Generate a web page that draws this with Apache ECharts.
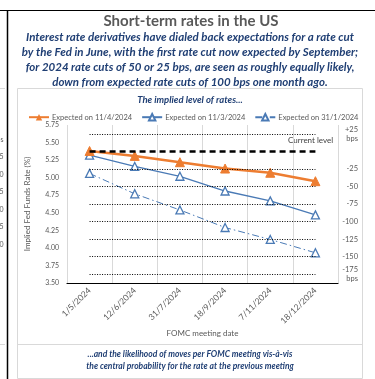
<!DOCTYPE html>
<html>
<head>
<meta charset="utf-8">
<script src="https://cdn.jsdelivr.net/npm/echarts@6/dist/echarts.min.js"></script>
<style>
  html, body { margin: 0; padding: 0; background: #fff; }
  #chart { width: 375px; height: 379px; }
</style>
</head>
<body>
<div id="chart"></div>
<script>
// FOMC meeting dates
var meetings = ["1/5/2024", "12/6/2024", "31/7/2024", "18/9/2024", "7/11/2024", "18/12/2024"];
// implied fed funds rate (%)
var expApr = [5.38, 5.31, 5.22, 5.13, 5.07, 4.95];
var expMar = [5.32, 5.16, 5.02, 4.81, 4.67, 4.47];
var expJan = [5.06, 4.77, 4.54, 4.29, 4.12, 3.93];
var seriesNames = ["Expected on 11/4/2024", "Expected on 11/3/2024", "Expected on 31/1/2024"];
// current level and bps guide lines
var currentLevel = 5.375;
var bpsLevels = [25, -25, -50, -75, -100, -125, -150, -175];
// clipped labels of the neighbour panel on the left
var sideLabels = ["bps", "-25", "-50", "-75", "-100", "-125", "-150"];

var navy = "#203f74";
var grey = "#595959";
var font = "Lato";

var myChart = echarts.init(document.getElementById("chart"));

// dotted guides from first to last meeting
var guideLines = bpsLevels.map(function (b) {
  var v = currentLevel + b / 100;
  return [{ coord: [0, v] }, { coord: [meetings.length - 1, v] }];
});

var graphics = [
  // frame lines
  { type: "line", shape: { x1: 0, y1: 10.5, x2: 375, y2: 10.5 }, style: { stroke: "#000", lineWidth: 1.2 } },
  { type: "line", shape: { x1: 7.5, y1: 10, x2: 7.5, y2: 379 }, style: { stroke: "#000", lineWidth: 1.5 } },
  { type: "rect", shape: { x: 17.5, y: 88.5, width: 345, height: 290 }, style: { fill: "none", stroke: "#d9d9d9", lineWidth: 1 } },
  { type: "line", shape: { x1: 17, y1: 344.5, x2: 363, y2: 344.5 }, style: { stroke: "#d9d9d9", lineWidth: 1 } },
  { type: "line", shape: { x1: 0, y1: 88.5, x2: 5, y2: 88.5 }, style: { stroke: "#d9d9d9", lineWidth: 1 } },
  { type: "line", shape: { x1: 0, y1: 344.5, x2: 5, y2: 344.5 }, style: { stroke: "#d9d9d9", lineWidth: 1 } },
  // headings
  { type: "text", x: 191, y: 14, style: { text: "Short-term rates in the US", font: "bold 15px " + font, fill: grey, align: "center" } },
  {
    type: "text", x: 190, y: 30,
    style: {
      text: "Interest rate derivatives have dialed back expectations for a rate cut\nby the Fed in June, with the first rate cut now expected by September;\nfor 2024 rate cuts of 50 or 25 bps, are seen as roughly equally likely,\ndown from expected rate cuts of 100 bps one month ago.",
      font: "italic bold 11.5px " + font, fill: navy, align: "center", lineHeight: 15
    }
  },
  { type: "text", x: 190, y: 95, style: { text: "The implied level of rates...", font: "italic bold 9.5px " + font, fill: navy, align: "center" } },
  {
    type: "text", x: 190, y: 348,
    style: {
      text: "...and the likelihood of moves per FOMC meeting vis-à-vis\nthe central probability for the rate at the previous meeting",
      font: "italic bold 8.5px " + font, fill: navy, align: "center", lineHeight: 12
    }
  },
  { type: "text", x: 288, y: 136, style: { text: "Current level", font: "8px " + font, fill: "#404040" } }
];

sideLabels.forEach(function (t, i) {
  graphics.push({
    type: "text", x: 3.5, y: 136 + i * 17.5,
    style: { text: t, font: "7px " + font, fill: grey, align: "right" }
  });
});

var option = {
  animation: false,
  textStyle: { fontFamily: font },
  graphic: graphics,
  legend: {
    top: 113,
    left: 28,
    width: 347,
    padding: 0,
    itemGap: 9,
    itemWidth: 20,
    itemHeight: 8,
    textStyle: { color: grey, fontSize: 7.5, padding: [0, 0, 0, -2] },
    data: seriesNames
  },
  grid: { left: 67, right: 37, top: 125, bottom: 96 },
  xAxis: {
    type: "category",
    data: meetings,
    boundaryGap: true,
    name: "FOMC meeting date",
    nameLocation: "middle",
    nameGap: 46,
    nameTextStyle: { color: grey, fontSize: 8 },
    axisLine: { lineStyle: { color: "#000", width: 1.2 } },
    axisTick: { show: false },
    axisLabel: { rotate: 45, color: grey, fontSize: 8.5, margin: 6 },
    splitLine: { show: true, lineStyle: { color: "#d9d9d9", width: 1 } }
  },
  yAxis: [
    {
      type: "value",
      min: 3.5,
      max: 5.75,
      interval: 0.25,
      name: "Implied Fed Funds Rate (%)",
      nameLocation: "middle",
      nameGap: 36,
      nameTextStyle: { color: grey, fontSize: 8 },
      axisLine: { show: false },
      axisTick: { show: false },
      splitLine: { show: false },
      axisLabel: { color: grey, fontSize: 7, margin: 8, formatter: function (v) { return v.toFixed(2); } }
    },
    {
      type: "value",
      position: "right",
      min: 3.5,
      max: 5.75,
      interval: 0.125,
      axisLine: { show: false },
      axisTick: { show: false },
      splitLine: { show: false },
      axisLabel: {
        color: grey, fontSize: 7.5, margin: 20, align: "right", lineHeight: 9,
        formatter: function (v) {
          var b = Math.round((v - currentLevel) * 1000) / 10;
          if (b % 25 !== 0 || b === 0) return "";
          if (b === 25) return "+25\nbps";
          if (b === -175) return "-175\nbps";
          return String(b);
        }
      }
    }
  ],
  series: [
    {
      name: "guides",
      type: "line",
      data: [],
      silent: true,
      z: 1,
      markLine: {
        silent: true,
        symbol: "none",
        label: { show: false },
        lineStyle: { color: "#000", type: [1, 1.5], width: 1 },
        data: guideLines.concat([[
          { coord: [0, currentLevel], lineStyle: { type: [6, 4], width: 2.5, color: "#000" } },
          { coord: [meetings.length - 1, currentLevel] }
        ]])
      }
    },
    {
      name: seriesNames[0],
      type: "line",
      data: expApr,
      z: 4,
      symbol: "triangle",
      symbolSize: 9,
      color: "#ed7d31",
      lineStyle: { width: 2.5, color: "#ed7d31" },
      itemStyle: { color: "#ed7d31", borderColor: "#ed7d31" }
    },
    {
      name: seriesNames[1],
      type: "line",
      data: expMar,
      z: 3,
      symbol: "triangle",
      symbolSize: 8,
      color: "#4a7ab5",
      lineStyle: { width: 1.3, color: "#4a7ab5" },
      itemStyle: { color: "#fff", borderColor: "#4a7ab5", borderWidth: 1.3 }
    },
    {
      name: seriesNames[2],
      type: "line",
      data: expJan,
      z: 3,
      symbol: "triangle",
      symbolSize: 8,
      color: "#4a7ab5",
      lineStyle: { width: 1, color: "#4a7ab5", type: [7, 3, 1.5, 3] },
      itemStyle: { color: "#fff", borderColor: "#4a7ab5", borderWidth: 1.3 }
    }
  ]
};

myChart.setOption(option);
window.addEventListener("resize", function () {
  if (myChart) myChart.resize();
});
</script>
</body>
</html>
